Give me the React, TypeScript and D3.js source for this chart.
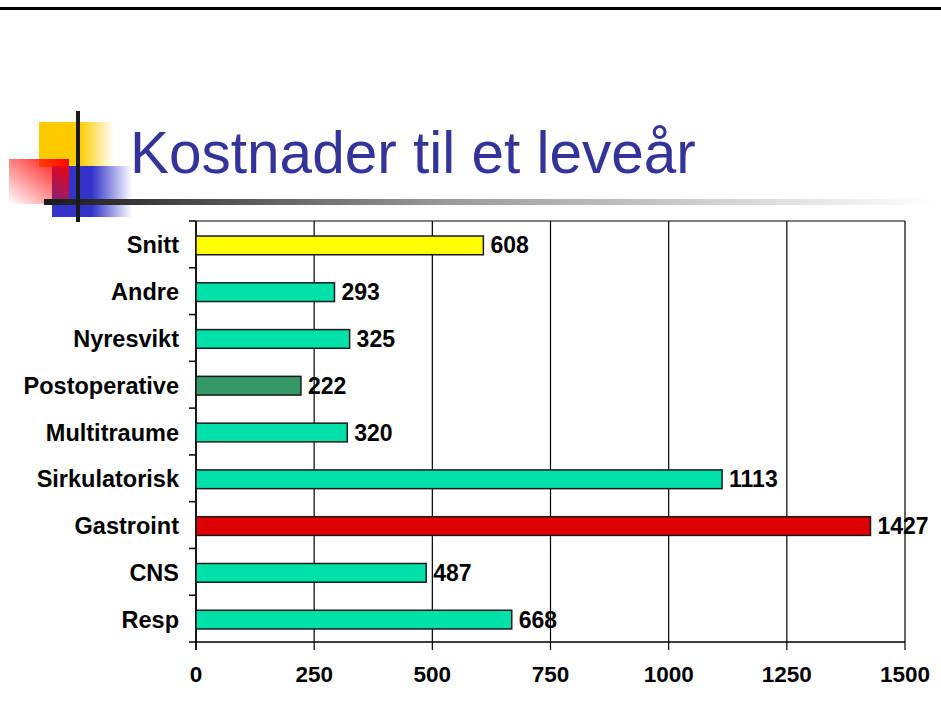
import * as d3 from 'd3'

const categories = ['Snitt', 'Andre', 'Nyresvikt', 'Postoperative', 'Multitraume', 'Sirkulatorisk', 'Gastroint', 'CNS', 'Resp']
const values = [608, 293, 325, 222, 320, 1113, 1427, 487, 668]
const barColors = ['#ffff00', '#00e1aa', '#00e1aa', '#339966', '#00e1aa', '#00e1aa', '#dd0000', '#00e1aa', '#00e1aa']
const xTicks = [0, 250, 500, 750, 1000, 1250, 1500]

const width = 941
const height = 722
const plot = { left: 196, right: 905, top: 221, bottom: 642 }
const font = '"Liberation Sans", Arial, Helvetica, sans-serif'

export default function App() {
  const x = d3.scaleLinear().domain([0, 1500]).range([plot.left, plot.right])
  const y = d3.scaleBand<string>()
    .domain(categories)
    .range([plot.top, plot.bottom])
    .paddingInner(0.6)
    .paddingOuter(0.3)
  const step = y.step()
  const boundaries = d3.range(categories.length + 1).map(i => plot.top + i * step)

  return (
    <svg width={width} height={height} style={{ position: 'absolute', left: 0, top: 0 }} fontFamily={font}>
      <defs>
        <linearGradient id="yel" x1="0" x2="1" y1="0" y2="0">
          <stop offset="0.55" stopColor="#ffcc00" />
          <stop offset="1" stopColor="#ffcc00" stopOpacity="0" />
        </linearGradient>
        <linearGradient id="blu" x1="0" x2="1" y1="0" y2="0">
          <stop offset="0.5" stopColor="#3333cc" />
          <stop offset="1" stopColor="#3333cc" stopOpacity="0" />
        </linearGradient>
        <linearGradient id="red" x1="1" x2="0" y1="0" y2="1">
          <stop offset="0" stopColor="#ff0000" />
          <stop offset="1" stopColor="#ff0000" stopOpacity="0" />
        </linearGradient>
        <linearGradient id="rule" x1="0" x2="1" y1="0" y2="0">
          <stop offset="0" stopColor="#1a1a1a" />
          <stop offset="0.45" stopColor="#999999" />
          <stop offset="1" stopColor="#ffffff" />
        </linearGradient>
      </defs>

      <rect width={width} height={height} fill="#ffffff" />
      <rect x={0} y={7} width={width} height={3} fill="#000000" />

      {/* slide decoration */}
      <rect x={39} y={122} width={75} height={45} fill="url(#yel)" />
      <rect x={52} y={166} width={80} height={51} fill="url(#blu)" />
      <rect x={9} y={159} width={60} height={45} fill="url(#red)" />
      <rect x={44} y={199} width={890} height={6} fill="url(#rule)" />
      <rect x={76} y={111} width={4} height={111} fill="#1a1a1a" />

      <text x={130} y={173} fontSize={58.5} fill="#333399">Kostnader til et leveår</text>

      {/* grid */}
      {xTicks.map(t => (
        <line key={'g' + t} x1={x(t)} x2={x(t)} y1={plot.top} y2={plot.bottom + 8} stroke="#000" strokeWidth={1.2} />
      ))}
      <line x1={plot.left} x2={plot.right} y1={plot.top} y2={plot.top} stroke="#000" strokeWidth={1.2} />
      <line x1={plot.left} x2={plot.right} y1={plot.bottom} y2={plot.bottom} stroke="#000" strokeWidth={1.5} />
      <line x1={plot.left} x2={plot.left} y1={plot.top} y2={plot.bottom + 8} stroke="#000" strokeWidth={1.5} />
      {boundaries.map((b, i) => (
        <line key={'b' + i} x1={plot.left - 7} x2={plot.left} y1={b} y2={b} stroke="#000" strokeWidth={1.5} />
      ))}

      {/* bars */}
      {categories.map((c, i) => (
        <rect key={c} x={x(0)} y={y(c)! + 1} width={x(values[i]) - x(0)} height={y.bandwidth()}
          fill={barColors[i]} stroke="#1a1a1a" strokeWidth={1.5} />
      ))}

      {/* labels */}
      {categories.map((c, i) => (
        <text key={'c' + c} x={179} y={y(c)! + y.bandwidth() / 2 + 9} textAnchor="end"
          fontSize={23.5} fontWeight="bold" fill="#000">{c}</text>
      ))}
      {categories.map((c, i) => (
        <text key={'v' + c} x={x(values[i]) + 7} y={y(c)! + y.bandwidth() / 2 + 9}
          fontSize={23} fontWeight="bold" fill="#000">{values[i]}</text>
      ))}
      {xTicks.map(t => (
        <text key={'t' + t} x={x(t)} y={682} textAnchor="middle" fontSize={22.5} fontWeight="bold" fill="#000">{t}</text>
      ))}
    </svg>
  )
}
